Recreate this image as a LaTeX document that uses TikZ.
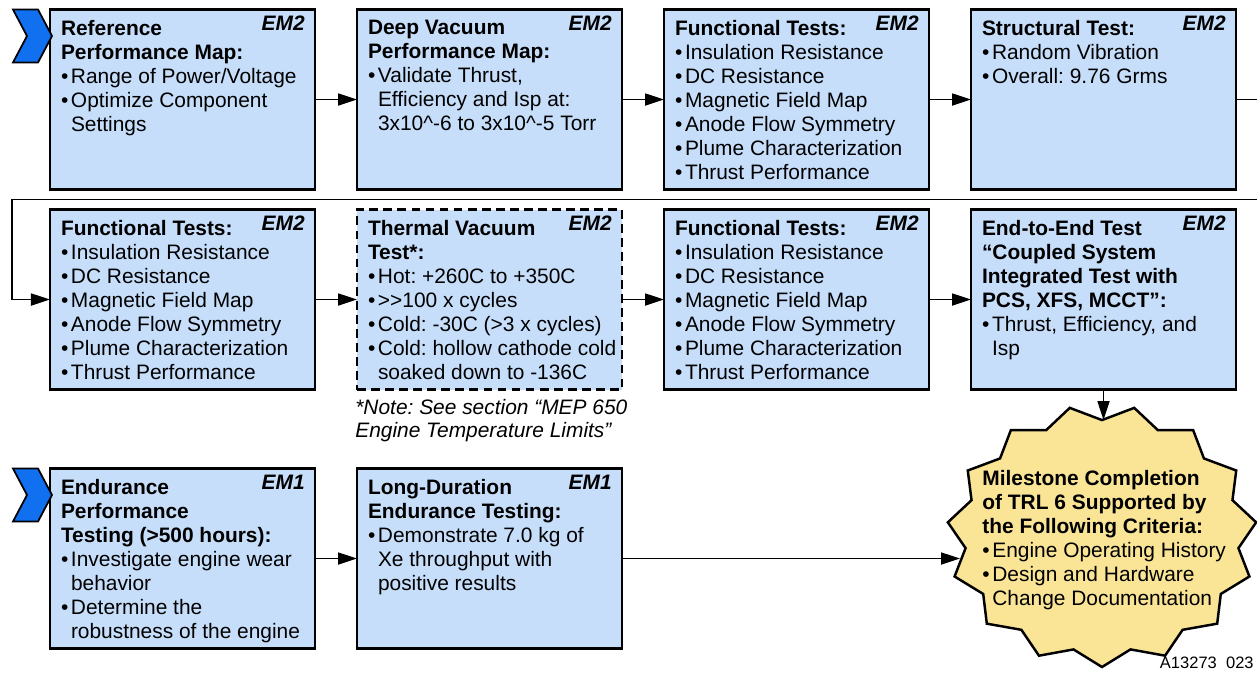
\documentclass[tikz,border=0pt]{standalone}
\usepackage{fontspec}
\setmainfont{Liberation Sans}
\usetikzlibrary{positioning,arrows.meta}
\frenchspacing

\definecolor{stageblue}{RGB}{198,222,250}
\definecolor{goalyellow}{RGB}{250,228,150}
\definecolor{chevblue}{RGB}{16,112,240}

\newcommand{\bitem}{\par\noindent\hangindent=0.2cm\hangafter=1\makebox[0.2cm][l]{\textbullet}}
\newcommand{\stagebody}[1]{\parbox[c][3.16cm][t]{4.86cm}{\raggedright #1}}

\begin{document}
\begin{tikzpicture}[>={Triangle[length=0.38cm,width=0.24cm]},
  stage/.style={draw, line width=1.4pt, fill=stageblue, inner sep=0.22cm, outer sep=0pt,
    font=\fontsize{11.9pt}{13.66pt}\selectfont},
  emtag/.style={anchor=north east, inner sep=0pt, xshift=-0.2cm, yshift=-0.13cm,
    font=\fontsize{11.9pt}{13.66pt}\selectfont\bfseries\itshape},
  flow/.style={->, line width=1pt},
  chevron/.style={draw, line width=1pt, fill=chevblue},
  goalstar/.style={draw, line width=1.4pt, fill=goalyellow, line join=miter}]
\useasboundingbox (0,0) rectangle (25.14,-13.44);

% first row
\node[stage, label={[emtag]north east:EM2}] (ref) at (3.65,-1.99)
  {\stagebody{\textbf{Reference\newline Performance Map:}
   \bitem Range of Power/Voltage
   \bitem Optimize Component\newline Settings}};
\node[stage, right=0.84cm of ref, label={[emtag]north east:EM2}] (vac)
  {\stagebody{\textbf{Deep Vacuum\newline Performance Map:}
   \bitem Validate Thrust,\newline Efficiency and Isp at:\newline 3x10\textasciicircum-6 to 3x10\textasciicircum-5 Torr}};
\node[stage, right=0.84cm of vac, label={[emtag]north east:EM2}] (fun0)
  {\stagebody{\textbf{Functional Tests:}
   \bitem Insulation Resistance \bitem DC Resistance \bitem Magnetic Field Map
   \bitem Anode Flow Symmetry \bitem Plume Characterization \bitem Thrust Performance}};
\node[stage, right=0.84cm of fun0, label={[emtag]north east:EM2}] (struct)
  {\stagebody{\textbf{Structural Test:}
   \bitem Random Vibration
   \bitem Overall: 9.76 Grms}};

% second row
\node[stage, below=0.4cm of ref, label={[emtag]north east:EM2}] (fun1)
  {\stagebody{\textbf{Functional Tests:}
   \bitem Insulation Resistance \bitem DC Resistance \bitem Magnetic Field Map
   \bitem Anode Flow Symmetry \bitem Plume Characterization \bitem Thrust Performance}};
\node[stage, dashed, dash pattern=on 5pt off 3pt, right=0.84cm of fun1, label={[emtag]north east:EM2}] (tvac)
  {\stagebody{\textbf{Thermal Vacuum\newline Test*:}
   \bitem Hot: +260C to +350C
   \bitem {>}{>}100 x cycles
   \bitem Cold: -30C ({>}3 x cycles)
   \bitem \mbox{Cold: hollow cathode cold}\newline soaked down to -136C}};
\node[stage, right=0.84cm of tvac, label={[emtag]north east:EM2}] (fun2)
  {\stagebody{\textbf{Functional Tests:}
   \bitem Insulation Resistance \bitem DC Resistance \bitem Magnetic Field Map
   \bitem Anode Flow Symmetry \bitem Plume Characterization \bitem Thrust Performance}};
\node[stage, right=0.84cm of fun2, label={[emtag]north east:EM2}] (e2e)
  {\stagebody{\textbf{End-to-End Test\newline “Coupled System\newline Integrated Test with\newline PCS, XFS, MCCT”:}
   \bitem Thrust, Efficiency, and\newline Isp}};
\node[anchor=north west, inner sep=0pt, align=left,
  font=\fontsize{11.9pt}{13.1pt}\selectfont\itshape] (note)
  at ([xshift=-0.04cm,yshift=-0.18cm]tvac.south west)
  {*Note: See section “MEP 650\\Engine Temperature Limits”};

% third row
\node[stage, below=1.58cm of fun1, label={[emtag]north east:EM1}] (endu)
  {\stagebody{\textbf{Endurance\newline Performance\newline Testing ({>}500 hours):}
   \bitem Investigate engine wear\newline behavior
   \bitem Determine the\newline robustness of the engine}};
\node[stage, right=0.84cm of endu, label={[emtag]north east:EM1}] (long)
  {\stagebody{\textbf{Long-Duration\newline Endurance Testing:}
   \bitem Demonstrate 7.0 kg of\newline Xe throughput with\newline positive results}};

% milestone star
\coordinate (mile) at (22.04,-10.72);
\coordinate (miletop) at ([yshift=2.32cm]mile);
\coordinate (mileleft) at ([xshift=-2.84cm]mile);
\draw[goalstar, shift={(mile)}] plot[samples at={0,...,29}, variable=\k]
  ({3.1*(1-0.115*mod(\k,2))*cos(270+12*\k)}, {2.62*(1-0.115*mod(\k,2))*sin(270+12*\k)}) -- cycle;
\node[anchor=north west, inner sep=0pt,
  font=\fontsize{11.9pt}{13.66pt}\selectfont] (goal) at (19.64,-9.40)
  {\parbox[t]{5.1cm}{\raggedright\textbf{Milestone Completion\newline of TRL 6 Supported by\newline the Following Criteria:}
   \bitem Engine Operating History
   \bitem Design and Hardware\newline Change Documentation}};

% start marks
\draw[chevron] ([xshift=-0.74cm]ref.north west) -- ++(0.5,0) -- ++(0.28,-0.53)
  -- ++(-0.28,-0.53) -- ++(-0.5,0) -- ++(0.28,0.53) -- cycle;
\draw[chevron] ([xshift=-0.74cm]endu.north west) -- ++(0.5,0) -- ++(0.28,-0.53)
  -- ++(-0.28,-0.53) -- ++(-0.5,0) -- ++(0.28,0.53) -- cycle;

% connectors
\draw[flow] (ref) -- (vac);
\draw[flow] (vac) -- (fun0);
\draw[flow] (fun0) -- (struct);
\draw[flow] (struct.east) -- ++(0.46,0) |- ([xshift=-0.76cm,yshift=0.2cm]fun1.north west) |- (fun1.west);
\draw[flow] (fun1) -- (tvac);
\draw[flow] (tvac) -- (fun2);
\draw[flow] (fun2) -- (e2e);
\draw[flow] (e2e.south) -- (e2e.south |- miletop);
\draw[flow] (endu) -- (long);
\draw[flow] (long.east) -- (long.east -| mileleft);

\node[anchor=base east, inner sep=0pt, font=\fontsize{9.4pt}{11pt}\selectfont] (fig)
  at (25.08,-13.36) {A13273\ \ 023};
\end{tikzpicture}
\end{document}
